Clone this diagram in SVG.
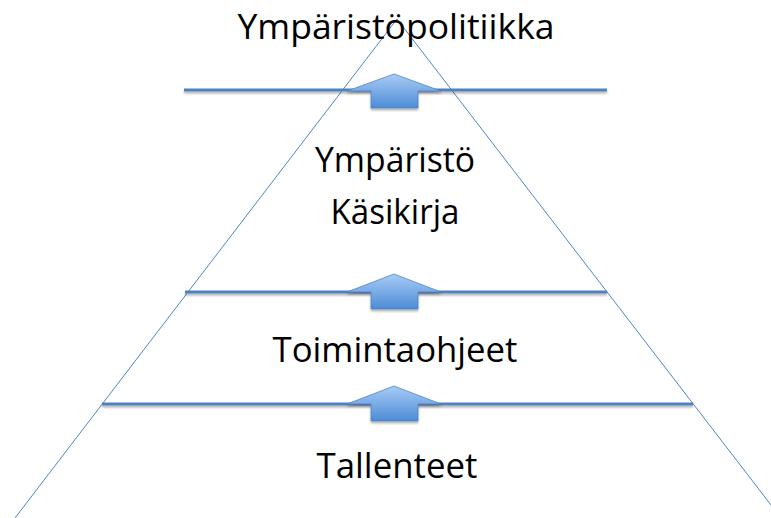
<svg xmlns="http://www.w3.org/2000/svg" width="771" height="518" viewBox="0 0 771 518">
  <style>
    .lbl { font-family: "Open Sans", "Liberation Sans", sans-serif; font-size: 34px; fill: #000; text-anchor: middle; }
    .side { stroke: #4f86c6; stroke-width: 1; fill: none; }
    .level { stroke: #4f81bd; stroke-width: 3; fill: none; filter: url(#shadow); }
    .arrow { fill: url(#arrowGrad); stroke: #4f81bd; stroke-width: 0.75; filter: url(#shadow); }
  </style>
  <defs>
    <linearGradient id="arrowGrad" x1="0" y1="0" x2="0" y2="1">
      <stop offset="0" stop-color="#a9cbf5"/>
      <stop offset="1" stop-color="#4d8cd6"/>
    </linearGradient>
    <filter id="shadow" filterUnits="userSpaceOnUse" x="0" y="0" width="771" height="518">
      <feDropShadow dx="0" dy="2" stdDeviation="1" flood-color="#000" flood-opacity="0.3"/>
    </filter>
  </defs>
  <rect width="771" height="518" fill="#fff"/>

  <g id="pyramid">
    <line class="side" x1="397" y1="19" x2="15" y2="518"/>
    <line class="side" x1="397" y1="19" x2="781" y2="518"/>
  </g>

  <g id="levels">
    <line class="level" x1="184" y1="90" x2="607" y2="90"/>
    <line class="level" x1="185" y1="292" x2="607" y2="292"/>
    <line class="level" x1="102" y1="404" x2="693" y2="404"/>
  </g>

  <g id="connectors">
    <path class="arrow" d="M394 74 L441 91 L418 91 L418 108 L371 108 L371 91 L347 91 Z"/>
    <path class="arrow" d="M394 274 L441 292 L418 292 L418 309 L371 309 L371 292 L347 292 Z"/>
    <path class="arrow" d="M394 386 L441 404 L418 404 L418 421 L371 421 L371 404 L347 404 Z"/>
  </g>

  <g id="node-politiikka">
    <text class="lbl" x="396" y="39" textLength="317" lengthAdjust="spacingAndGlyphs">Ympäristöpolitiikka</text>
  </g>
  <g id="node-kasikirja">
    <text class="lbl" x="395" y="172" textLength="160" lengthAdjust="spacingAndGlyphs">Ympäristö</text>
    <text class="lbl" x="395" y="224" textLength="129" lengthAdjust="spacingAndGlyphs">Käsikirja</text>
  </g>
  <g id="node-toimintaohjeet">
    <text class="lbl" x="395" y="362" textLength="245" lengthAdjust="spacingAndGlyphs">Toimintaohjeet</text>
  </g>
  <g id="node-tallenteet">
    <text class="lbl" x="397" y="478" textLength="161" lengthAdjust="spacingAndGlyphs">Tallenteet</text>
  </g>
</svg>
